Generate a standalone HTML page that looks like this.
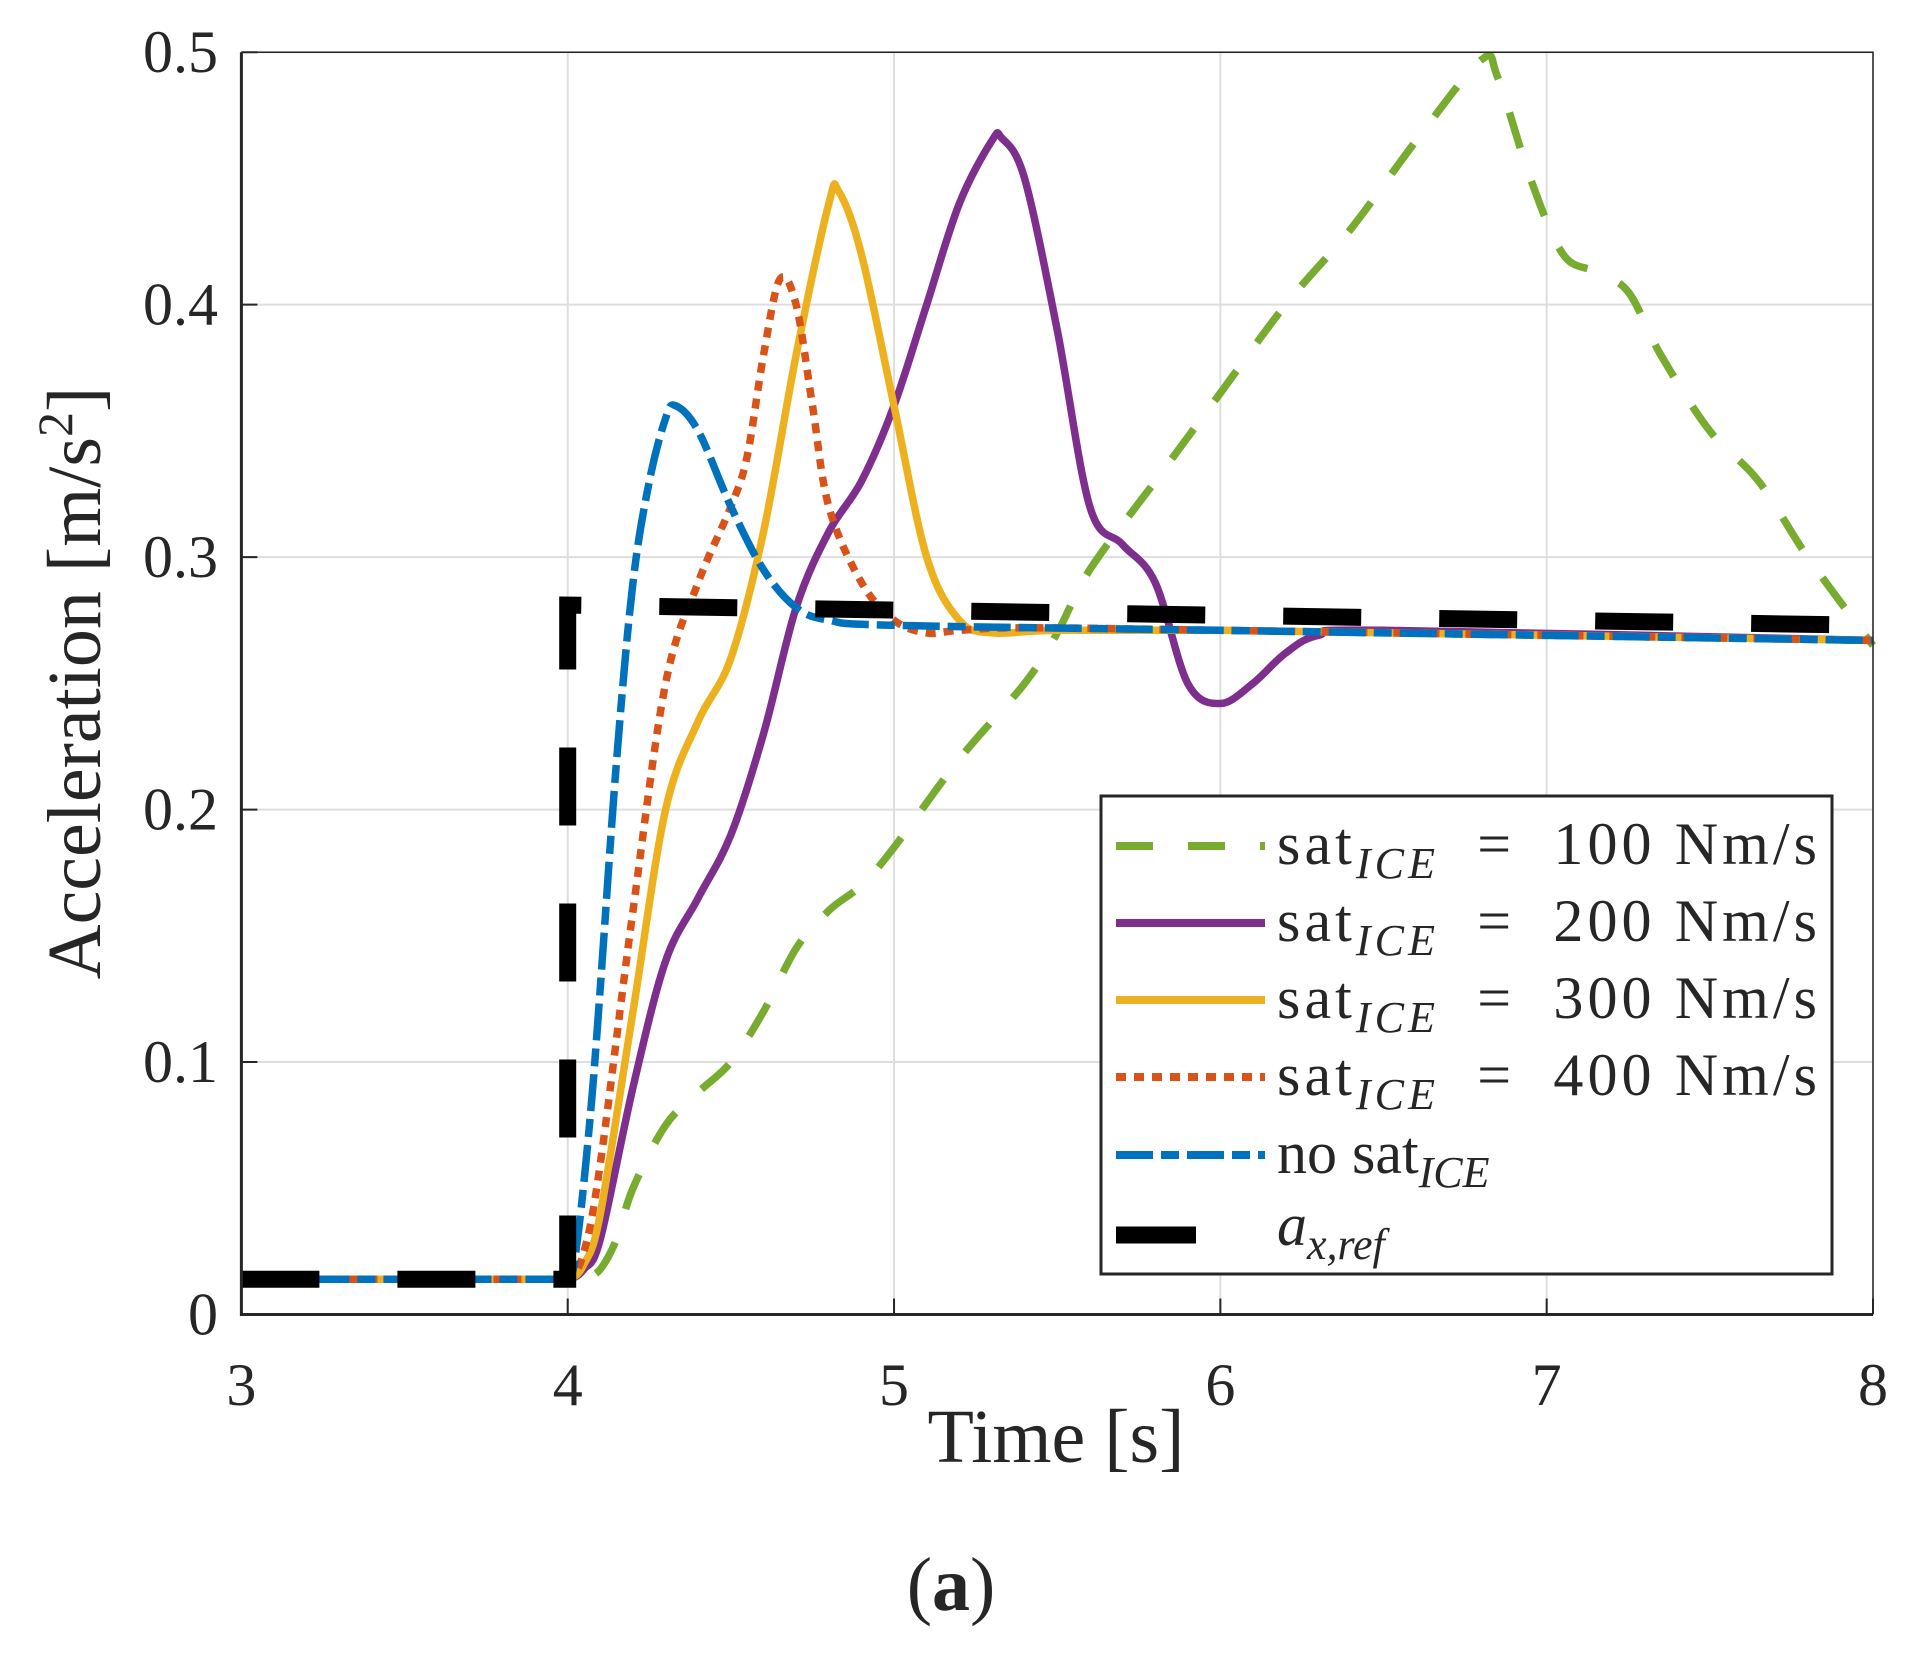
<!DOCTYPE html>
<html><head><meta charset="utf-8"><style>
html,body{margin:0;padding:0;background:#fff}
svg text{font-family:"Liberation Serif",serif;fill:#262626}
</style></head><body>
<svg id="chart" width="1912" height="1648" viewBox="0 0 1912 1648" xmlns="http://www.w3.org/2000/svg">
<g id="grid"></g>
<g id="series"></g>
<g id="axes"></g>
<g id="legend"></g>
</svg>
<script>
const xTicks=[3,4,5,6,7,8];
const yTicks=[0,0.1,0.2,0.3,0.4,0.5];
const yTickLabels=["0","0.1","0.2","0.3","0.4","0.5"];
const tRef=[3,4,4,5,6,7,8];
const vRef=[0.014,0.014,0.281,0.279,0.277,0.275,0.273];
const tBlue=[3,3.5,3.9,4.0,4.03,4.07,4.1,4.15,4.2,4.25,4.3,4.33,4.4,4.5,4.6,4.7,4.8,5,6,7,8];
const vBlue=[0.014,0.014,0.014,0.014,0.03,0.08,0.13,0.22,0.29,0.33,0.355,0.36,0.35,0.32,0.295,0.28,0.275,0.273,0.271,0.269,0.267];
const tOrange=[3,3.5,3.9,4.0,4.05,4.1,4.2,4.3,4.4,4.5,4.55,4.6,4.65,4.7,4.75,4.8,4.9,5.0,5.1,5.2,5.4,6,8];
const vOrange=[0.014,0.014,0.014,0.014,0.025,0.06,0.16,0.25,0.29,0.32,0.34,0.38,0.41,0.40,0.36,0.32,0.29,0.275,0.27,0.271,0.272,0.271,0.267];
const tYellow=[3,3.5,3.9,4.0,4.05,4.1,4.2,4.3,4.4,4.5,4.6,4.7,4.8,4.83,4.9,5.0,5.1,5.2,5.3,5.5,6,8];
const vYellow=[0.014,0.014,0.014,0.014,0.02,0.04,0.12,0.2,0.235,0.26,0.31,0.38,0.44,0.445,0.42,0.36,0.3,0.275,0.27,0.271,0.271,0.267];
const tPurple=[3,3.5,3.9,4.0,4.05,4.1,4.2,4.3,4.4,4.5,4.6,4.7,4.8,4.9,5.0,5.1,5.2,5.3,5.33,5.4,5.5,5.6,5.7,5.8,5.9,6.0,6.1,6.2,6.3,6.5,8];
const vPurple=[0.014,0.014,0.014,0.014,0.018,0.03,0.09,0.14,0.165,0.19,0.23,0.28,0.31,0.33,0.36,0.4,0.44,0.465,0.466,0.45,0.39,0.32,0.305,0.29,0.25,0.242,0.25,0.262,0.269,0.271,0.267];
const tGreen=[3,3.5,4.0,4.05,4.1,4.15,4.2,4.3,4.4,4.5,4.6,4.7,4.8,4.9,5.0,5.2,5.4,5.5,5.6,5.8,6.0,6.2,6.4,6.6,6.8,6.85,6.95,7.05,7.15,7.25,7.35,7.5,7.65,7.8,8.0];
const vGreen=[0.014,0.014,0.014,0.014,0.018,0.03,0.05,0.075,0.088,0.1,0.12,0.145,0.16,0.17,0.185,0.22,0.25,0.27,0.295,0.33,0.365,0.4,0.43,0.465,0.497,0.49,0.45,0.42,0.413,0.405,0.38,0.35,0.33,0.3,0.265];
const legendLabels=["100","200","300","400"];

const X0=241.4,X1=1873,Y0=1314.5,Y1=52.2;
const xs=t=>X0+(t-3)/5*(X1-X0);
const ys=v=>Y0+v/0.5*(Y1-Y0);
const NS="http://www.w3.org/2000/svg";
function mk(tag,attrs,parent){const e=document.createElementNS(NS,tag);for(const k in attrs)e.setAttribute(k,attrs[k]);parent.appendChild(e);return e;}
const grid=document.getElementById('grid'),axes=document.getElementById('axes'),series=document.getElementById('series'),legend=document.getElementById('legend');
xTicks.forEach(t=>{
  const g=mk('line',{x1:xs(t),x2:xs(t),y1:Y1,y2:Y0,stroke:'#dedede','stroke-width':2},grid);
  
  
  const tk=mk('line',{x1:xs(t),x2:xs(t),y1:Y0,y2:Y0-16,stroke:'#262626','stroke-width':2},axes);
  
  
  const tx=mk('text',{x:xs(t),y:1405,'font-size':60,'text-anchor':'middle'},axes);tx.textContent=t;
  
  
});
yTicks.forEach((v,i)=>{
  const g=mk('line',{x1:X0,x2:X1,y1:ys(v),y2:ys(v),stroke:'#dedede','stroke-width':2},grid);
  
  
  const tk=mk('line',{x1:X0,x2:X0+16,y1:ys(v),y2:ys(v),stroke:'#262626','stroke-width':2},axes);
  
  
  const tx=mk('text',{x:218,y:ys(v)+20,'font-size':60,'text-anchor':'end'},axes);tx.textContent=yTickLabels[i];
  
  
});
const frame=mk('path',{d:`M${X0},${Y1}H${X1}V${Y0}`,fill:'none',stroke:'#262626','stroke-width':1.5},axes);


const axl=mk('path',{d:`M${X0},${Y1}V${Y0}H${X1}`,fill:'none',stroke:'#262626','stroke-width':3},axes);


const xt=mk('text',{x:1056,y:1462,'font-size':76,'text-anchor':'middle'},axes);xt.textContent='Time [s]';


const yt=mk('text',{x:0,y:0,'font-size':76,'text-anchor':'middle',transform:'translate(100,683) rotate(-90)'},axes);
yt.innerHTML='Acceleration [m/s<tspan dy="-28" font-size="50">2</tspan><tspan dy="28">]</tspan>';


const cap=mk('text',{x:951,y:1610,'font-size':76,'text-anchor':'middle'},axes);cap.innerHTML='(<tspan font-weight="bold">a</tspan>)';



const specs=[
 {t:tGreen,v:vGreen,c:'#77AC30',w:7.5,d:'37 35',n:'series-100'},
 {t:tPurple,v:vPurple,c:'#7E2F8E',w:7.5,d:'',n:'series-200'},
 {t:tYellow,v:vYellow,c:'#EDB120',w:7.5,d:'',n:'series-300'},
 {t:tOrange,v:vOrange,c:'#D95319',w:7.5,d:'10 8',n:'series-400'},
 {t:tBlue,v:vBlue,c:'#0072BD',w:7.5,d:'37 8 18 8',n:'series-no-sat'},
];
function path(t,v){return t.map((x,i)=>(i?'L':'M')+xs(x).toFixed(1)+','+ys(v[i]).toFixed(1)).join('');}
function smooth(t,v){
  const P=t.map((x,i)=>[xs(x),ys(v[i])]);
  let d='M'+P[0][0].toFixed(1)+','+P[0][1].toFixed(1);
  for(let i=0;i<P.length-1;i++){
    const p0=P[Math.max(0,i-1)],p1=P[i],p2=P[i+1],p3=P[Math.min(P.length-1,i+2)];
    const k=1/6;
    let c1=[p1[0]+(p2[0]-p0[0])*k,p1[1]+(p2[1]-p0[1])*k];
    let c2=[p2[0]-(p3[0]-p1[0])*k,p2[1]-(p3[1]-p1[1])*k];
    if(p1[1]===p2[1]){c1=[c1[0],p1[1]];c2=[c2[0],p2[1]];}
    d+='C'+c1.map(n=>n.toFixed(1))+' '+c2.map(n=>n.toFixed(1))+' '+p2[0].toFixed(1)+','+p2[1].toFixed(1);
  }
  return d;
}
const ref=mk('path',{d:path(tRef,vRef),fill:'none',stroke:'#000','stroke-width':17,'stroke-dasharray':'78 78'},series);


specs.forEach(s=>{
  const p=mk('path',{d:smooth(s.t,s.v),fill:'none',stroke:s.c,'stroke-width':s.w,'stroke-linejoin':'round'},series);
  if(s.d)p.setAttribute('stroke-dasharray',s.d);
  
  
});
series.appendChild(ref);

const lb=mk('rect',{x:1101,y:796,width:731,height:478,fill:'#fff',stroke:'#262626','stroke-width':3},legend);


const rowsY=[846,923,1000,1077,1155,1235];
specs.forEach((s,i)=>{
  const l=mk('line',{x1:1116,x2:1265,y1:rowsY[i],y2:rowsY[i],stroke:s.c,'stroke-width':8},legend);
  if(s.d)l.setAttribute('stroke-dasharray',s.d);
  
  
  const tx=mk('text',{x:1277,y:rowsY[i]+18,'font-size':60},legend);
  if(i<4){tx.innerHTML='sat<tspan font-style="italic" font-size="44" dy="14">ICE</tspan><tspan dy="-14" xml:space="preserve">  =  '+legendLabels[i]+' Nm/s</tspan>';tx.setAttribute('textLength','540');}
  else tx.innerHTML='no sat<tspan font-style="italic" font-size="44" dy="14">ICE</tspan>';
  
  
});
const rl=mk('line',{x1:1116,x2:1196,y1:rowsY[5],y2:rowsY[5],stroke:'#000','stroke-width':17},legend);


const rt=mk('text',{x:1277,y:rowsY[5]+10,'font-size':60,'font-style':'italic'},legend);
rt.innerHTML='a<tspan font-size="44" dy="14">x,ref</tspan>';


</script>
</body></html>
